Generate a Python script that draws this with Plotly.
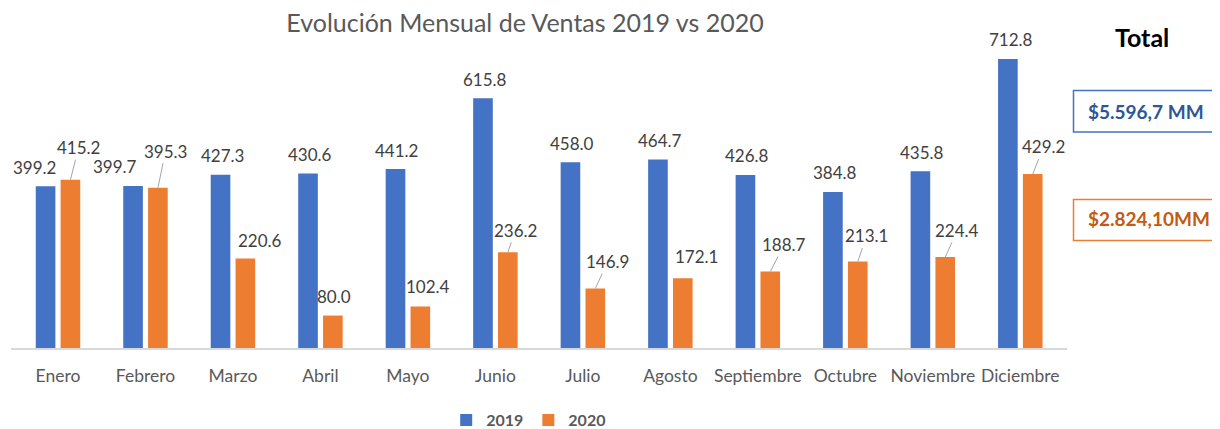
import plotly.graph_objects as go

# ---------------- data ----------------
meses = ["Enero", "Febrero", "Marzo", "Abril", "Mayo", "Junio", "Julio",
         "Agosto", "Septiembre", "Octubre", "Noviembre", "Diciembre"]
ventas_2019 = [399.2, 399.7, 427.3, 430.6, 441.2, 615.8, 458.0, 464.7, 426.8, 384.8, 435.8, 712.8]
ventas_2020 = [415.2, 395.3, 220.6, 80.0, 102.4, 236.2, 146.9, 172.1, 188.7, 213.1, 224.4, 429.2]
series = ["2019", "2020"]
titulo = "Evolución Mensual de Ventas 2019 vs 2020"
total_titulo = "Total"
total_2019 = "$5.596,7 MM"
total_2020 = "$2.824,10MM"

# ---------------- styles ----------------
AZUL = "#4472C4"
NARANJA = "#ED7D31"
FONT = "Lato"
PAGE = 8                      # default body margin of the html page
W, H = 1220 - PAGE, 429 - PAGE
ML, MR, MT, MB = 11 - PAGE, 153, 40 - PAGE, 81
BARGAP, BARGROUPGAP = 0.432, 0.21
YMAX = 759.6

plot_w = W - ML - MR
plot_h = H - MT - MB
cat_w = plot_w / len(meses)
slot = cat_w * (1 - BARGAP) / 2
off = [-slot / 2, slot / 2]  # pixel offset of each series' bar centre

# label placement tweaks (pixels, relative to bar top centre)
lab_dx_2019 = [-11, -18, 2, 2, 1, 2, 2, 2, 2, 2, 2, 3]
lab_dy_2019 = [-19] * 12
lab_dx_2020 = [8, 7.5, 15, 1.5, 7.7, 7.2, 12.3, 14, 13.7, 8.5, 12, 10.7]
lab_dy_2020 = [-32, -36.5, -18.5, -19, -19.5, -22, -26.7, -21.5, -27, -25.6, -26.7, -27.3]
leader_2020 = [True, True, False, False, False, True, True, False, True, True, True, True]

fig = go.Figure()
fig.add_trace(go.Bar(x=meses, y=ventas_2019, name=series[0], marker_color=AZUL,
                     marker_line_width=0))
fig.add_trace(go.Bar(x=meses, y=ventas_2020, name=series[1], marker_color=NARANJA,
                     marker_line_width=0))

anns = []
lab_font = dict(family=FONT, size=17, color="#404040")
for i, m in enumerate(meses):
    v = ventas_2019[i]
    anns.append(dict(x=m, y=v, xref="x", yref="y", text=f"{v:.1f}", showarrow=False,
                     xanchor="center", yanchor="middle",
                     xshift=off[0] + lab_dx_2019[i], yshift=-lab_dy_2019[i],
                     font=lab_font))
    v = ventas_2020[i]
    if leader_2020[i]:
        anns.append(dict(x=m, y=v, xref="x", yref="y", text=f"{v:.1f}", showarrow=True,
                         arrowhead=0, arrowwidth=1, arrowcolor="#A6A6A6",
                         ax=lab_dx_2020[i], ay=lab_dy_2020[i], standoff=0,
                         xshift=off[1], font=lab_font))
    else:
        anns.append(dict(x=m, y=v, xref="x", yref="y", text=f"{v:.1f}", showarrow=False,
                         xanchor="center", yanchor="middle",
                         xshift=off[1] + lab_dx_2020[i], yshift=-lab_dy_2020[i],
                         font=lab_font))


def px_x(px):  # page pixel -> paper fraction
    return (px - PAGE - ML) / plot_w


def px_y(py):
    return (H - MB - (py - PAGE)) / plot_h


anns.append(dict(x=px_x(1141.7), y=px_y(36.7), xref="paper", yref="paper",
                 text=f"<b>{total_titulo}</b>", showarrow=False,
                 xanchor="center", yanchor="middle",
                 font=dict(family=FONT, size=25, color="#000000")))
anns.append(dict(x=px_x(1086), y=px_y(111.5), xref="paper", yref="paper",
                 text=f"<b>{total_2019}</b>", showarrow=False,
                 xanchor="left", yanchor="middle",
                 font=dict(family=FONT, size=19, color="#2F5597")))
anns.append(dict(x=px_x(1086), y=px_y(218.5), xref="paper", yref="paper",
                 text=f"<b>{total_2020}</b>", showarrow=False,
                 xanchor="left", yanchor="middle",
                 font=dict(family=FONT, size=19, color="#C55A11")))

shapes = [
    dict(type="rect", xref="paper", yref="paper", x0=px_x(1073.5), x1=px_x(1228),
         y0=px_y(132), y1=px_y(90.5), line=dict(color=AZUL, width=1.5)),
    dict(type="rect", xref="paper", yref="paper", x0=px_x(1073.5), x1=px_x(1228),
         y0=px_y(240.5), y1=px_y(199.5), line=dict(color=NARANJA, width=1.5)),
]

fig.update_layout(
    width=W, height=H,
    margin=dict(l=ML, r=MR, t=MT, b=MB, pad=0, autoexpand=False),
    paper_bgcolor="white", plot_bgcolor="white",
    barmode="group", bargap=BARGAP, bargroupgap=BARGROUPGAP,
    title=dict(text=titulo, x=(525 - PAGE) / W, xanchor="center",
               y=1 - (23 - PAGE) / H, yanchor="middle",
               font=dict(family=FONT, size=25, color="#595959")),
    xaxis=dict(showline=True, linecolor="#D9D9D9", linewidth=1.5, ticks="",
               showgrid=False, ticklabelstandoff=11, automargin=False,
               tickfont=dict(family=FONT, size=17.5, color="#595959")),
    yaxis=dict(range=[0, YMAX], visible=False, showgrid=False, automargin=False),
    showlegend=True,
    legend=dict(orientation="h", x=px_x(528.7), xanchor="center", y=px_y(420),
                yanchor="middle", font=dict(family=FONT, size=16, color="#595959",
                                            weight="bold"),
                itemwidth=30, bgcolor="rgba(0,0,0,0)"),
    annotations=anns, shapes=shapes,
)

fig.write_html("out.html")
